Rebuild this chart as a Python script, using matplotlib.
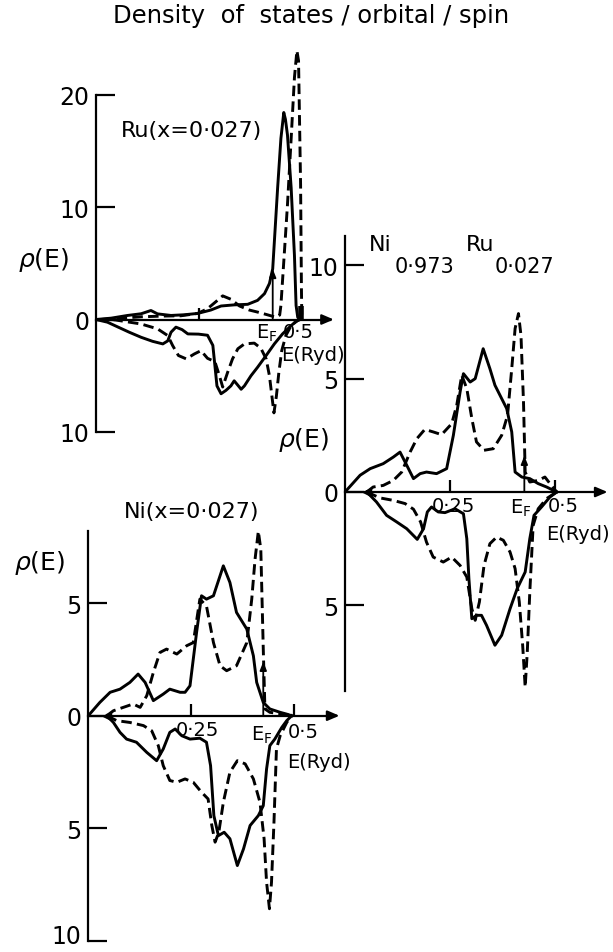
import matplotlib
matplotlib.use("Agg")
import matplotlib.pyplot as plt
import matplotlib.transforms as mtrans
import numpy as np

plt.rcParams['font.family'] = ['DejaVu Sans']
plt.rcParams['mathtext.fontset'] = 'dejavusans'

# ---------------- data: energy (Ryd) and density of states ----------------
# spin-down values are stored as positive magnitudes and drawn below the axis
# Ru impurity, x = 0.027
ru_up_solid_E = [0, .037, .077, .110, .134, .150, .183, .215, .248, .280, .305, .337, .370, .394,
                 .411, .423, .431, .443, .451, .458, .462, .467, .476, .484, .488, .492, .497]
ru_up_solid_rho = [0, .12, .36, .51, .80, .50, .36, .42, .54, .84, 1.2, 1.3, 1.35, 1.7,
                   2.3, 3.2, 4.5, 11.7, 16.1, 18.4, 17.8, 16.4, 11.7, 5.7, 1.25, .2, 0]
ru_up_dash_E = [.012, .061, .110, .159, .207, .248, .272, .293, .309, .329, .350, .374, .394,
                .415, .439, .448, .451, .459, .467, .476, .484, .490, .494, .499, .501, .502]
ru_up_dash_rho = [0, .12, .24, .30, .33, .54, .96, 1.6, 2.1, 1.8, 1.2, .84, .66,
                  .45, .2, .4, 1.25, 5.7, 10.2, 16.1, 21.5, 23.9, 23.0, 12.0, 3.0, 0]
ru_dn_solid_E = [0, .028, .053, .081, .110, .138, .163, .175, .183, .195, .210, .224, .250, .272,
                 .285, .290, .295, .305, .317, .329, .337, .345, .354, .362, .378, .394, .415,
                 .435, .455, .476, .488, .496]
ru_dn_solid_rho = [0, .24, .66, 1.13, 1.58, 1.94, 2.17, 1.9, 1.13, .68, .9, 1.28, 1.3, 1.4,
                   2.3, 4.1, 5.9, 6.6, 6.3, 5.9, 5.45, 5.8, 6.2, 5.9, 5.0, 4.25, 3.2,
                   2.17, 1.28, .54, .18, 0]
ru_dn_dash_E = [.040, .110, .150, .175, .187, .201, .220, .240, .256, .272, .290, .301, .309,
                .321, .333, .346, .362, .386, .402, .415, .423, .429, .434, .440, .446, .453,
                .463, .476, .488, .496]
ru_dn_dash_rho = [0, .4, .83, 1.43, 2.32, 3.2, 3.5, 3.06, 2.77, 3.45, 3.75, 5.0, 6.0,
                  4.7, 3.5, 2.6, 2.17, 2.1, 2.55, 3.5, 5.0, 6.8, 8.3, 6.8, 4.7, 2.77,
                  1.43, .54, .18, 0]

# Ni host atom, x = 0.027
ni_up_solid_E = [0, .028, .053, .077, .101, .121, .138, .158, .182, .198, .223, .235, .247, .263,
                 .275, .287, .304, .328, .344, .360, .385, .401, .409, .425, .441, .466, .482, .494]
ni_up_solid_rho = [0, .59, 1.04, 1.18, 1.48, 1.85, 1.48, .67, .96, 1.18, 1.04, 1.04, 1.33, 3.70,
                   5.33, 5.18, 5.33, 6.66, 5.92, 4.59, 3.85, 2.66, 1.48, .59, .30, .15, .07, 0]
ni_up_dash_E = [.045, .061, .085, .109, .126, .142, .158, .174, .190, .215, .239, .255, .271,
                .287, .304, .320, .336, .360, .385, .397, .405, .413, .419, .425, .429, .441,
                .474, .494]
ni_up_dash_rho = [0, .22, .37, .52, .37, .89, 1.92, 2.81, 2.96, 2.74, 3.11, 3.25, 5.18,
                  4.88, 3.25, 2.22, 2.0, 2.22, 3.25, 5.18, 6.95, 8.2, 7.4, 2.96, .3, .15,
                  .07, 0]
ni_dn_solid_E = [.045, .061, .077, .093, .117, .142, .166, .182, .198, .211, .227, .247, .271,
                 .287, .297, .305, .316, .330, .344, .362, .377, .393, .413, .425, .433, .441,
                 .453, .470, .482, .494]
ni_dn_solid_rho = [0, .30, .74, 1.04, 1.18, 1.63, 2.0, 1.48, .74, .59, .89, 1.04, 1.0,
                   1.18, 2.22, 4.44, 5.33, 5.18, 5.47, 6.66, 5.92, 4.88, 4.44, 4.0, 2.37, 1.33,
                   1.04, .52, .22, 0]
ni_dn_dash_E = [.045, .069, .101, .134, .154, .170, .182, .198, .215, .235, .255, .275, .291,
                .300, .308, .317, .328, .344, .362, .381, .401, .417, .427, .433, .440, .445,
                .451, .457, .466, .482, .494]
ni_dn_dash_rho = [0, .22, .30, .44, .67, 1.33, 2.22, 2.88, 2.96, 2.81, 2.96, 3.40, 3.70,
                  4.88, 5.62, 5.18, 3.85, 2.51, 2.0, 2.14, 2.81, 3.85, 5.47, 7.40, 8.58, 7.40,
                  4.73, 1.48, .89, .30, 0]

# Ni(0.973) Ru(0.027) alloy average
al_up_solid_E = [0, .036, .060, .091, .115, .131, .147, .163, .179, .194, .218, .242, .258, .274,
                 .282, .298, .310, .329, .345, .357, .385, .397, .405, .421, .440, .460, .480, .504]
al_up_solid_rho = [0, .74, 1.03, 1.25, 1.54, 1.76, 1.18, .59, .81, .88, .81, 1.03, 2.50, 4.41,
                   5.22, 4.85, 5.0, 6.32, 5.44, 4.71, 3.68, 2.65, .88, .66, .59, .37, .22, 0]
al_up_dash_E = [.052, .067, .091, .115, .135, .155, .171, .190, .210, .230, .254, .266, .278,
                .290, .302, .313, .331, .353, .373, .387, .397, .405, .413, .419, .425, .429,
                .440, .460, .476, .488, .504]
al_up_dash_rho = [0, .22, .29, .51, .88, 1.76, 2.35, 2.76, 2.65, 2.53, 3.01, 3.82, 5.15,
                  4.56, 3.24, 2.21, 1.84, 1.91, 2.50, 3.38, 5.44, 7.21, 7.87, 6.91, 3.97, .88,
                  .44, .51, .66, .37, 0]
al_dn_solid_E = [.052, .075, .099, .123, .147, .172, .187, .196, .206, .222, .238, .262, .282,
                 .290, .295, .302, .313, .325, .337, .357, .373, .393, .410, .429, .440, .450,
                 .468, .488, .504]
al_dn_solid_rho = [0, .44, 1.03, 1.32, 1.62, 2.09, 1.62, .88, .66, .88, .91, .74, .96,
                   2.06, 3.82, 5.59, 5.44, 5.44, 5.88, 6.76, 6.32, 5.15, 4.26, 3.53, 2.06, 1.03,
                   .66, .22, 0]
al_dn_dash_E = [.052, .083, .115, .143, .163, .180, .194, .210, .234, .254, .274, .290, .302,
                .310, .320, .331, .345, .361, .377, .393, .405, .415, .423, .429, .434, .440,
                .448, .460, .480, .504]
al_dn_dash_rho = [0, .26, .37, .51, .76, 1.32, 2.21, 2.87, 3.09, 2.87, 3.24, 3.75, 5.15,
                  5.66, 4.85, 3.24, 2.28, 1.99, 2.13, 2.65, 3.38, 4.85, 6.76, 8.6, 7.06, 4.41,
                  1.47, .74, .29, 0]

# Fermi energies, band bottoms and arrow heights
ru_EF, ni_EF, al_EF = 0.431, 0.425, 0.427
ru_EF_top, ni_EF_top, al_EF_top = 4.5, 2.4, 1.6
ni_band_bottom, al_band_bottom = 0.045, 0.052

# ---------------- figure ----------------
W, H = 613, 953
fig = plt.figure(figsize=(W / 100, H / 100), dpi=100)
fig.patch.set_facecolor('white')

LW = 2.1
DASH = (0, (3.6, 1.8))


def px(x, y):
    return x / W, 1 - y / H


def place_axes(x0, y0, sx, sy, xlim, ylim):
    """Axes whose data origin sits at pixel (x0, y0) with sx, sy pixels per unit."""
    left = x0 + xlim[0] * sx
    right = x0 + xlim[1] * sx
    top = y0 - ylim[1] * sy
    bottom = y0 - ylim[0] * sy
    ax = fig.add_axes([left / W, 1 - bottom / H, (right - left) / W, (bottom - top) / H])
    ax.set_xlim(*xlim)
    ax.set_ylim(*ylim)
    ax.patch.set_alpha(0)
    return ax


def style(ax, yticks, ylabels, ybounds, xend, xticks):
    ax.spines['top'].set_visible(False)
    ax.spines['right'].set_visible(False)
    ax.spines['left'].set_bounds(*ybounds)
    ax.spines['left'].set_linewidth(1.6)
    ax.spines['bottom'].set_position(('data', 0))
    ax.spines['bottom'].set_bounds(0, xend - 0.01)
    ax.spines['bottom'].set_linewidth(1.6)
    ax.set_yticks(yticks, ylabels)
    ax.set_xticks(xticks, [''] * len(xticks))
    ax.tick_params(axis='y', direction='in', length=14, width=1.6, pad=5, labelsize=17)
    ax.tick_params(axis='x', direction='in', length=9, width=1.6)
    ax.annotate('', xy=(xend, 0), xytext=(xend - 0.03, 0),
                arrowprops=dict(arrowstyle='-|>,head_length=0.7,head_width=0.3',
                                color='k', lw=1.6, shrinkA=0, shrinkB=0),
                annotation_clip=False)


def curves(ax, us_E, us_r, ud_E, ud_r, ds_E, ds_r, dd_E, dd_r):
    ax.plot(us_E, us_r, color='k', lw=LW, solid_joinstyle='round')
    ax.plot(ud_E, ud_r, color='k', lw=LW, linestyle=DASH)
    ax.plot(ds_E, -np.asarray(ds_r), color='k', lw=LW, solid_joinstyle='round')
    ax.plot(dd_E, -np.asarray(dd_r), color='k', lw=LW, linestyle=DASH)


def fermi_arrow(ax, ef, top):
    ax.annotate('', xy=(ef, top), xytext=(ef, 0),
                arrowprops=dict(arrowstyle='-|>,head_length=0.5,head_width=0.2',
                                color='k', lw=1.3, shrinkA=0, shrinkB=0))


def ftext(x, y, s, size=14, **kw):
    fig.text(*px(x, y), s, fontsize=size, ha='center', va='center', **kw)


# Ru panel
ax_ru = place_axes(96, 320.5, 410, 11.25, (0, 0.60), (-10.6, 25.5))
style(ax_ru, [-10, 0, 10, 20], ['10', '0', '10', '20'], (-10, 20), 0.58, [0.25])
ax_ru.plot([0.5, 0.5], [0, 1.2], color='k', lw=4, solid_capstyle='butt')
curves(ax_ru, ru_up_solid_E, ru_up_solid_rho, ru_up_dash_E, ru_up_dash_rho,
       ru_dn_solid_E, ru_dn_solid_rho, ru_dn_dash_E, ru_dn_dash_rho)
fermi_arrow(ax_ru, ru_EF, ru_EF_top)

# Ni0.973Ru0.027 panel
ax_al = place_axes(345, 493, 420, 22.67, (0, 0.64), (-8.9, 11.5))
style(ax_al, [-5, 0, 5, 10], ['5', '0', '5', '10'], (-8.8, 11.3), 0.625, [0.25, 0.5])
curves(ax_al, al_up_solid_E, al_up_solid_rho, al_up_dash_E, al_up_dash_rho,
       al_dn_solid_E, al_dn_solid_rho, al_dn_dash_E, al_dn_dash_rho)
fermi_arrow(ax_al, al_EF, al_EF_top)
ax_al.plot([al_band_bottom], [0], marker='<', color='k', ms=6)

# Ni panel
ax_ni = place_axes(88.3, 716.7, 411.7, 22.5, (0, 0.62), (-10.3, 8.5))
style(ax_ni, [-10, -5, 0, 5], ['10', '5', '0', '5'], (-10, 8.2), 0.61, [0.25, 0.5])
curves(ax_ni, ni_up_solid_E, ni_up_solid_rho, ni_up_dash_E, ni_up_dash_rho,
       ni_dn_solid_E, ni_dn_solid_rho, ni_dn_dash_E, ni_dn_dash_rho)
fermi_arrow(ax_ni, ni_EF, ni_EF_top)
ax_ni.plot([ni_band_bottom], [0], marker='<', color='k', ms=6)
# lift the lowest tick label so it stays inside the figure
low_label = ax_ni.get_yticklabels()[0]
low_label.set_transform(low_label.get_transform()
                        + mtrans.ScaledTranslation(0, 5 / 72, fig.dpi_scale_trans))

# ---------------- text ----------------
ftext(311, 16, 'Density  of  states / orbital / spin', size=17.5)

ftext(192, 131, 'Ru(x=0·027)', size=16)
ftext(44, 260, r'$\rho$(E)', size=18)
ftext(267, 333, r'E$_{\rm F}$', size=14)
ftext(298, 333, '0·5', size=14)
ftext(313, 356, 'E(Ryd)', size=14)

ftext(380, 245, 'Ni', size=16)
ftext(424, 267, '0·973', size=15)
ftext(480, 245, 'Ru', size=16)
ftext(524, 267, '0·027', size=15)
ftext(304, 440, r'$\rho$(E)', size=18)
ftext(453, 507, '0·25', size=14)
ftext(521, 508, r'E$_{\rm F}$', size=14)
ftext(563, 507, '0·5', size=14)
ftext(578, 535, 'E(Ryd)', size=14)

ftext(192, 512, 'Ni(x=0·027)', size=16)
ftext(40, 563, r'$\rho$(E)', size=18)
ftext(197, 731, '0·25', size=14)
ftext(262, 735, r'E$_{\rm F}$', size=14)
ftext(303, 733, '0·5', size=14)
ftext(319, 762, 'E(Ryd)', size=14)

fig.savefig('out.png', dpi=100)
